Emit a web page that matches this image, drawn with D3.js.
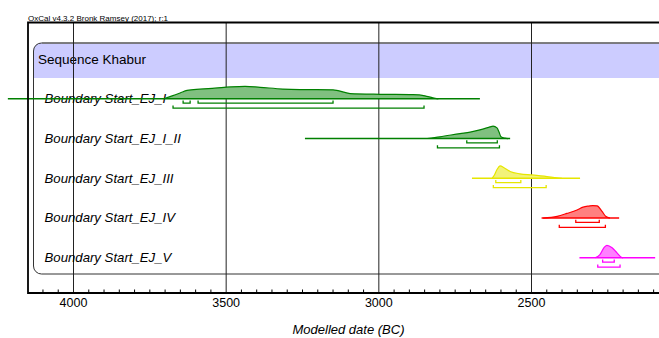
<!DOCTYPE html>
<html>
<head>
<meta charset="utf-8">
<script src="https://cdn.jsdelivr.net/npm/d3@7/dist/d3.min.js"></script>
<style>
  html, body { margin: 0; padding: 0; background: #fff; }
  svg { display: block; font-family: "Liberation Sans", Arial, sans-serif; }
</style>
</head>
<body>
<svg id="chart" width="659" height="338"></svg>
<script>
// Row labels, top to bottom
const labels = [
  "Boundary Start_EJ_I",
  "Boundary Start_EJ_I_II",
  "Boundary Start_EJ_III",
  "Boundary Start_EJ_IV",
  "Boundary Start_EJ_V"
];
const colors = ["#008000", "#008000", "#e6e600", "#ff0000", "#ff00ff"];
const fills  = ["#80c080", "#80c080", "#f2f27a", "#ff8080", "#ff80ff"];

// Full calculated range of each boundary (years BC)
const ranges = [
  [4215, 2669],
  [3242, 2570],
  [2695, 2341],
  [2467, 2213],
  [2343, 2095]
];

// Posterior densities: [year BC, relative probability]
const densities = [
  [[3705,0],[3677,0.23],[3651,0.46],[3628,0.67],[3586,0.77],[3537,0.85],[3487,0.95],[3438,1.0],
   [3389,0.92],[3314,0.78],[3258,0.74],[3150,0.72],[3094,0.42],[2996,0.36],[2888,0.33],
   [2849,0.24],[2823,0.08],[2805,0]],
  [[2842,0],[2800,0.14],[2734,0.4],[2701,0.52],[2669,0.7],[2636,0.93],[2626,1.0],[2613,0.85],
   [2606,0.5],[2600,0.15],[2587,0.03],[2577,0]],
  [[2629,0],[2623,0.2],[2613,0.7],[2603,1.0],[2590,0.85],[2570,0.55],[2538,0.36],[2498,0.27],
   [2449,0.14],[2416,0.03],[2400,0]],
  [[2462,0],[2416,0.14],[2384,0.37],[2351,0.64],[2331,0.87],[2312,0.96],[2299,1.0],[2285,0.97],
   [2269,0.53],[2256,0.12],[2243,0]],
  [[2292,0],[2276,0.25],[2263,0.8],[2253,1.0],[2236,0.8],[2220,0.4],[2204,0.02],[2200,0]]
];

// Highest posterior density ranges
const hpd68 = [
  [[3641,3618],[3592,3150]],
  [[2712,2612]],
  [[2617,2535]],
  [[2355,2278]],
  [[2267,2229]]
];
const hpd95 = [
  [[3674,2852]],
  [[2808,2605]],
  [[2625,2452]],
  [[2409,2258]],
  [[2283,2210]]
];

const majorTicks = [4000, 3500, 3000, 2500];
const minorTicks = d3.range(4100, 2050, -50);

const svg = d3.select("#chart");

const frameLeft = 28, frameTop = 22.5, frameBottom = 293, frameRight = 659;
const x = d3.scaleLinear().domain([4000, 2500]).range([73.5, 531.5]);
const h = d3.scaleLinear().domain([0, 1]).range([0, 12.5]);
const rowY = d3.scaleLinear().domain([0, 4]).range([98.8, 257.8]);

// Credit line
svg.append("text")
  .attr("x", frameLeft).attr("y", 21)
  .attr("font-size", 8).attr("fill", "#000")
  .text("OxCal v4.3.2 Bronk Ramsey (2017); r:1");

// Sequence box with header band
const clip = svg.append("defs").append("clipPath").attr("id", "boxclip");
clip.append("rect").attr("x", 33.5).attr("y", 43).attr("width", 700).attr("height", 231).attr("rx", 8);
svg.append("rect")
  .attr("x", 33.5).attr("y", 43).attr("width", 700).attr("height", 35)
  .attr("fill", "#ccccff").attr("clip-path", "url(#boxclip)");
svg.append("rect")
  .attr("x", 33.5).attr("y", 43).attr("width", 700).attr("height", 231).attr("rx", 8)
  .attr("fill", "none").attr("stroke", "#333").attr("stroke-width", 1);
svg.append("line")
  .attr("x1", 42).attr("x2", frameRight).attr("y1", 43).attr("y2", 43)
  .attr("stroke", "#777").attr("stroke-width", 1.6);

svg.append("text")
  .attr("x", 38).attr("y", 63.5)
  .attr("font-size", 13.5).attr("fill", "#000")
  .text("Sequence Khabur");

// Vertical grid lines at the major ticks
svg.append("g").selectAll("line").data(majorTicks).join("line")
  .attr("x1", d => x(d)).attr("x2", d => x(d))
  .attr("y1", frameTop).attr("y2", frameBottom)
  .attr("stroke", "#222").attr("stroke-width", 1);

// Row labels
svg.append("g").selectAll("text").data(labels).join("text")
  .attr("x", 44.5).attr("y", (d, i) => rowY(i) + 4.2)
  .attr("font-size", 13.2).attr("font-style", "italic").attr("fill", "#000")
  .text(d => d);

// Distributions
const area = d3.area()
  .x(d => x(d[0]))
  .y0(0)
  .y1(d => -h(d[1]))
  .curve(d3.curveMonotoneX);
const topLine = d3.line()
  .x(d => x(d[0]))
  .y(d => -h(d[1]))
  .curve(d3.curveMonotoneX);

const rows = svg.append("g").selectAll("g").data(labels).join("g")
  .attr("transform", (d, i) => `translate(0,${rowY(i)})`);

rows.append("path")
  .attr("d", (d, i) => area(densities[i]))
  .attr("fill", (d, i) => fills[i]);
rows.append("path")
  .attr("d", (d, i) => topLine(densities[i]))
  .attr("fill", "none")
  .attr("stroke", (d, i) => colors[i]).attr("stroke-width", 1.2);
rows.append("line")
  .attr("x1", (d, i) => x(ranges[i][0])).attr("x2", (d, i) => x(ranges[i][1]))
  .attr("y1", 0).attr("y2", 0)
  .attr("stroke", (d, i) => colors[i]).attr("stroke-width", 1.5);

// Range brackets
function bracket(r, dy) {
  const a = x(r[0]), b = x(r[1]);
  return `M${a},${dy - 2.5}V${dy}H${b}V${dy - 2.5}`;
}
rows.each(function (d, i) {
  const g = d3.select(this);
  g.selectAll("path.h68").data(hpd68[i]).join("path")
    .attr("class", "h68")
    .attr("d", r => bracket(r, 4.3))
    .attr("fill", "none").attr("stroke", colors[i]).attr("stroke-width", 1.3);
  g.selectAll("path.h95").data(hpd95[i]).join("path")
    .attr("class", "h95")
    .attr("d", r => bracket(r, 9.3))
    .attr("fill", "none").attr("stroke", colors[i]).attr("stroke-width", 1.3);
});

// Frame and axis
svg.append("path")
  .attr("d", `M${frameRight},${frameTop}H${frameLeft}V${frameBottom}H${frameRight}`)
  .attr("fill", "none").attr("stroke", "#000").attr("stroke-width", 1.8);

svg.append("g").selectAll("line").data(minorTicks.filter(t => majorTicks.indexOf(t) < 0)).join("line")
  .attr("x1", d => x(d)).attr("x2", d => x(d))
  .attr("y1", frameBottom).attr("y2", frameBottom - 3.5)
  .attr("stroke", "#000").attr("stroke-width", 1);

svg.append("g").selectAll("text").data(majorTicks).join("text")
  .attr("x", d => x(d)).attr("y", 307)
  .attr("text-anchor", "middle").attr("font-size", 12.5).attr("fill", "#000")
  .text(d => d);

svg.append("text")
  .attr("x", 348.5).attr("y", 334)
  .attr("text-anchor", "middle").attr("font-size", 13).attr("font-style", "italic")
  .attr("fill", "#000")
  .text("Modelled date (BC)");
</script>
</body>
</html>
